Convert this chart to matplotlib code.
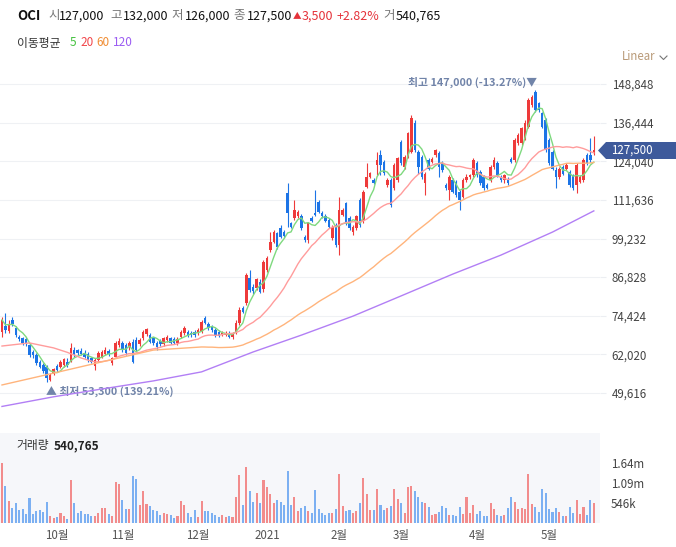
import matplotlib
matplotlib.use('Agg')
import matplotlib.pyplot as plt
import numpy as np
import pandas as pd
from matplotlib.patches import Polygon

plt.rcParams['font.family'] = ['Noto Sans CJK KR', 'DejaVu Sans']

# daily candles, prices in thousand won
opens = [69.3, 71.1, 69.6, 73.1, 70.4, 67.7, 67.2, 66.9, 65.0, 62.9, 61.8, 59.7, 58.6, 58.1, 53.8, 55.7, 58.3, 58.1, 58.6, 59.7,
         60.0, 63.4, 63.4, 63.2, 62.6, 62.2, 60.7, 58.3, 60.2, 61.3, 62.2, 63.2, 59.2, 61.3, 65.0, 65.8, 65.0, 64.3, 66.1, 66.7,
         65.4, 67.2, 68.5, 68.3, 67.2, 65.8, 66.4, 65.4, 66.7, 67.2, 66.9, 65.6, 67.5, 68.8, 69.3, 69.0, 69.3, 68.8, 69.6, 73.6,
         71.8, 70.9, 69.9, 69.3, 68.4, 68.4, 69.0, 67.5, 69.0, 72.0, 76.8, 78.4, 86.5, 83.8, 83.2, 85.4, 82.9, 89.1, 95.6, 98.2,
         100.9, 102.5, 101.4, 113.8, 104.1, 105.7, 106.3, 106.3, 99.8, 98.8, 105.7, 107.3, 111.1, 107.3, 106.5, 105.2, 99.3, 103.6, 97.2, 106.8,
         110.5, 105.7, 101.4, 102.5, 111.6, 104.7, 115.9, 119.1, 118.0, 122.8, 126.1, 123.9, 116.4, 118.0, 115.4, 118.0, 130.3, 122.1, 125.5, 127.1,
         136.2, 127.1, 125.5, 116.9, 124.4, 123.9, 126.0, 126.8, 123.4, 116.4, 114.8, 118.0, 117.5, 114.3, 112.7, 118.0, 119.1, 119.6, 123.4, 120.7,
         119.1, 116.4, 118.0, 122.3, 123.6, 119.1, 118.0, 118.5, 124.9, 124.4, 129.8, 129.8, 131.4, 135.1, 142.1, 146.4, 142.6, 139.4, 137.3, 130.8,
         127.1, 121.2, 119.1, 122.3, 121.7, 120.7, 119.6, 116.4, 117.5, 118.0, 126.0, 126.0, 127.0]
highs = [74.1, 75.2, 72.9, 74.1, 71.0, 68.3, 67.7, 67.5, 65.6, 63.4, 62.4, 60.2, 59.2, 58.6, 56.0, 57.5, 58.8, 60.2, 61.0, 60.7,
         65.6, 64.5, 63.9, 64.0, 63.4, 62.9, 61.3, 61.0, 63.0, 63.4, 64.5, 63.9, 61.3, 66.4, 67.2, 66.4, 65.6, 66.4, 66.9, 67.5,
         67.2, 69.9, 70.6, 68.8, 67.7, 66.4, 66.9, 67.7, 68.3, 67.7, 67.5, 67.5, 69.9, 71.0, 69.9, 69.6, 69.9, 70.4, 73.1, 74.4,
         72.5, 71.5, 70.4, 69.9, 69.6, 69.6, 69.6, 69.3, 72.9, 77.1, 77.4, 88.0, 89.1, 84.6, 86.7, 86.1, 92.3, 93.5, 101.4, 102.0,
         101.4, 103.6, 102.0, 117.0, 104.6, 111.6, 108.4, 107.0, 100.3, 104.6, 106.3, 114.8, 111.6, 108.0, 107.0, 105.7, 103.6, 104.1, 112.7, 109.0,
         111.1, 106.3, 103.6, 106.8, 112.2, 114.8, 123.4, 120.7, 118.6, 127.1, 127.7, 124.5, 118.6, 118.6, 123.4, 125.5, 131.0, 126.1, 133.5, 138.9,
         137.2, 127.6, 126.1, 120.7, 125.0, 125.5, 128.1, 127.4, 124.0, 117.0, 119.6, 118.6, 118.0, 114.8, 118.6, 120.1, 120.1, 125.0, 124.0, 121.2,
         119.6, 117.0, 122.8, 125.5, 124.0, 119.6, 120.1, 119.1, 125.5, 131.4, 133.0, 135.1, 137.3, 144.2, 145.3, 147.0, 143.2, 140.0, 137.8, 131.4,
         127.6, 122.3, 122.3, 122.8, 123.4, 121.2, 120.1, 123.4, 119.6, 125.0, 126.6, 131.4, 132.0]
lows = [67.7, 68.8, 69.0, 71.0, 67.7, 66.4, 65.0, 64.7, 61.3, 61.0, 58.6, 57.5, 56.0, 53.3, 53.5, 55.4, 56.5, 57.5, 58.1, 58.1,
        59.7, 61.3, 61.8, 61.8, 60.7, 59.7, 59.2, 57.0, 59.7, 60.7, 61.8, 61.5, 58.6, 60.7, 64.5, 62.9, 61.8, 63.4, 59.2, 62.9,
        64.8, 66.7, 68.0, 65.6, 65.0, 63.4, 64.8, 64.8, 66.1, 65.4, 65.4, 65.0, 67.2, 68.3, 67.7, 67.7, 67.7, 68.3, 69.0, 71.8,
        70.0, 69.3, 67.5, 67.5, 67.9, 68.0, 67.2, 66.9, 68.5, 71.5, 75.2, 77.8, 82.2, 81.4, 82.7, 81.6, 82.2, 88.5, 95.0, 97.7,
        96.0, 99.3, 99.3, 103.0, 102.5, 105.2, 105.7, 101.9, 98.2, 97.7, 104.6, 106.5, 107.3, 105.7, 104.6, 102.5, 98.8, 96.6, 94.0, 106.3,
        103.6, 101.9, 100.3, 101.9, 103.0, 104.1, 115.4, 118.6, 116.6, 119.6, 119.6, 119.6, 115.9, 109.5, 114.8, 117.5, 122.8, 121.5, 125.0, 126.6,
        127.1, 120.1, 118.5, 113.2, 121.2, 123.4, 125.5, 119.1, 120.7, 114.8, 111.6, 113.7, 112.7, 108.4, 112.2, 117.5, 118.5, 119.1, 119.1, 116.4,
        114.8, 115.0, 117.5, 121.7, 119.1, 117.5, 117.0, 116.4, 123.4, 123.9, 129.2, 129.2, 130.8, 134.6, 141.5, 140.0, 139.9, 134.6, 127.1, 122.8,
        121.2, 115.3, 118.5, 119.6, 121.2, 115.9, 114.8, 113.7, 116.9, 117.5, 122.8, 123.9, 126.0]
closes = [73.1, 69.9, 71.8, 71.8, 68.3, 66.9, 65.8, 65.4, 61.8, 61.8, 59.2, 58.1, 56.8, 54.3, 55.4, 57.2, 57.0, 59.7, 60.4, 58.6,
          64.0, 61.8, 62.4, 62.2, 61.3, 60.2, 59.7, 60.2, 62.4, 62.9, 63.4, 62.0, 60.7, 65.6, 66.4, 63.4, 62.4, 65.6, 59.7, 63.4,
          66.7, 69.3, 70.1, 66.1, 65.8, 64.3, 65.4, 67.2, 67.7, 65.8, 65.8, 66.9, 69.3, 70.4, 68.3, 68.1, 68.3, 69.9, 72.5, 72.2,
          70.4, 69.9, 67.9, 67.9, 69.0, 69.0, 67.7, 68.8, 72.0, 76.3, 75.7, 87.5, 82.7, 82.5, 86.1, 82.2, 91.8, 92.9, 98.2, 101.4,
          96.6, 99.8, 100.0, 107.3, 103.0, 108.4, 107.9, 102.5, 98.8, 104.1, 105.0, 106.7, 107.9, 106.3, 105.0, 103.0, 103.0, 97.2, 108.4, 108.4,
          104.1, 102.5, 103.0, 106.3, 103.6, 114.3, 119.1, 120.2, 117.2, 124.5, 122.8, 120.2, 118.0, 110.0, 122.8, 125.0, 123.4, 125.5, 133.0, 137.8,
          127.6, 122.3, 119.1, 120.1, 121.7, 124.9, 127.6, 122.3, 121.2, 115.3, 119.1, 114.3, 113.2, 111.6, 118.0, 119.1, 119.6, 124.4, 119.6, 116.9,
          115.3, 115.6, 122.3, 124.4, 119.6, 118.0, 119.6, 116.9, 123.9, 130.8, 132.4, 134.6, 136.2, 143.7, 144.8, 140.5, 140.5, 135.1, 127.6, 123.4,
          121.7, 119.1, 121.7, 120.1, 122.8, 116.4, 115.3, 122.8, 119.1, 124.4, 123.4, 124.4, 127.5]
# volume, thousand shares
volumes = [1640, 1000, 610, 410, 546, 364, 380, 245, 680, 245, 320, 364, 300, 573, 182, 137, 164, 273, 182, 109,
           1180, 546, 273, 337, 245, 245, 182, 200, 273, 410, 410, 245, 182, 1120, 1060, 637, 382, 382, 1290, 1210,
           491, 883, 519, 455, 364, 318, 218, 273, 245, 228, 137, 200, 610, 500, 273, 164, 364, 164, 610, 337,
           337, 273, 210, 164, 228, 164, 182, 164, 710, 1320, 500, 1530, 883, 565, 820, 546, 1180, 983, 790, 546,
           628, 565, 500, 1410, 491, 710, 337, 410, 473, 318, 273, 910, 382, 273, 210, 273, 273, 382, 1350, 473,
           337, 364, 273, 337, 546, 1230, 800, 364, 364, 930, 482, 364, 410, 473, 930, 655, 546, 273, 983, 1000,
           883, 700, 573, 546, 437, 218, 245, 300, 473, 410, 218, 218, 182, 437, 245, 710, 273, 491, 245, 318,
           182, 182, 546, 382, 218, 200, 218, 410, 710, 573, 382, 410, 382, 1340, 519, 437, 300, 930, 820, 382,
           300, 410, 300, 200, 182, 437, 273, 628, 245, 437, 218, 628, 541]

ma20_head_idx = [0, 8, 15]
ma20_head_val = [64.7, 65.7, 64.1]
ma60_head_idx = [0, 15, 29, 44, 58]
ma60_head_val = [52.2, 56.0, 59.6, 63.4, 64.4]
ma120_idx = [0, 15, 29, 44, 58, 73, 87, 102, 116, 131, 145, 160, 172]
ma120_val = [45.3, 48.4, 50.9, 53.5, 56.4, 62.8, 68.2, 74.3, 80.8, 87.8, 93.9, 101.3, 108.1]

price_ticks = [49616, 62020, 74424, 86828, 99232, 111636, 124040, 136444, 148848]
vol_ticks = [546, 1092, 1638]
vol_labels = ['546k', '1.09m', '1.64m']
months = ['10월', '11월', '12월', '2021', '2월', '3월', '4월', '5월']
month_idx = [16, 35, 57, 77, 98, 116, 138, 159]

W, H = 676, 547
fig = plt.figure(figsize=(W / 100, H / 100), dpi=100)


def fx(px):
    return px / W


def fy(py):
    return 1 - py / H


def ftext(px, py, s, **kw):
    fig.text(fx(px), fy(py), s, va='center', ha='left', **kw)


def ma_line(head_idx, head_val, n):
    # read levels up to the first full window, then the rolling mean of closes
    roll = pd.Series(closes).rolling(n).mean()
    xs = list(head_idx) + list(range(n - 1, len(closes)))
    ys = list(head_val) + list(roll[n - 1:])
    return xs, ys


up_c, dn_c = '#ee3a3a', '#1c74e6'
o, h, l, c = map(np.array, (opens, highs, lows, closes))
x = np.arange(len(c))
col = np.where(c >= o, up_c, dn_c)

ax = fig.add_axes([0, fy(425), fx(600), (425 - 65) / H])
ax.set_xlim(-0.58, 173.8)
ax.set_ylim(39.34, 154.95)

ax.vlines(x, l, h, colors=col, lw=0.8, zorder=3)
ax.bar(x, np.maximum(np.abs(c - o), 0.3), bottom=np.minimum(o, c), width=0.72,
       color=col, linewidth=0, zorder=3)

ma5 = pd.Series(c).rolling(5, min_periods=1).mean()
ax.plot(x, ma5, color='#7fd97f', lw=1.0, zorder=4)
ax.plot(*ma_line(ma20_head_idx, ma20_head_val, 20), color='#ff9c9c', lw=1.0, zorder=4)
ax.plot(*ma_line(ma60_head_idx, ma60_head_val, 60), color='#ffb47c', lw=1.0, zorder=4)
ax.plot(ma120_idx, ma120_val, color='#b27ff5', lw=1.0, zorder=4)

ax.yaxis.tick_right()
ax.set_yticks([v / 1000 for v in price_ticks])
ax.set_yticklabels([f'{v:,}' for v in price_ticks], fontsize=8.3, color='#444')
ax.tick_params(axis='y', length=4, color='#eceef2', pad=4.5)
ax.tick_params(axis='x', bottom=False, labelbottom=False)
ax.grid(axis='y', color='#eff1f4', lw=0.8)
ax.set_axisbelow(True)
for s in ax.spines.values():
    s.set_visible(False)

# high / low marks
ihi = int(np.argmax(h))
ilo = int(np.argmin(l))
ax.text(ihi + 0.6, 149.5, f'최고 {h[ihi] * 1000:,.0f} (-13.27%)▼', ha='right', va='center',
        fontsize=7.8, color='#7184a9', fontweight='bold')
ax.text(ilo - 0.3, 50.3, f'▲ 최저 {l[ilo] * 1000:,.0f} (139.21%)', ha='left', va='center',
        fontsize=7.8, color='#7184a9', fontweight='bold')

# volume panel
axv = fig.add_axes([0, fy(523), fx(600), (523 - 433) / H])
axv.set_facecolor('#f6f7fa')
axv.set_xlim(-0.58, 173.8)
axv.set_ylim(0, 2457)
vcol = np.where(c >= o, '#f28c8c', '#7cb0f2')
axv.bar(x, volumes, width=0.6, color=vcol, linewidth=0)
axv.yaxis.tick_right()
axv.set_yticks(vol_ticks)
axv.set_yticklabels(vol_labels, fontsize=8.3, color='#444')
axv.tick_params(axis='y', length=0, pad=8)
axv.set_xticks(month_idx)
axv.set_xticklabels(months, fontsize=8.3, color='#555')
axv.tick_params(axis='x', length=0, pad=4)
for s in axv.spines.values():
    s.set_visible(False)

# last price tag
tag = Polygon([(fx(598), fy(150.5)), (fx(606), fy(142)), (fx(676), fy(142)),
               (fx(676), fy(159)), (fx(606), fy(159))], closed=True,
              transform=fig.transFigure, facecolor='#3e5a9b', edgecolor='none', zorder=5)
fig.patches.append(tag)
fig.text(fx(611), fy(150.5), f'{c[-1] * 1000:,.0f}', color='white', fontsize=8.3,
         va='center', ha='left', zorder=6)

# Linear selector
ftext(622, 57, 'Linear', fontsize=8.3, color='#b99a78')
fig.lines.append(plt.Line2D([fx(660), fx(663.5), fx(667)], [fy(56), fy(59.5), fy(56)],
                            transform=fig.transFigure, color='#777', lw=0.8))

# header
ftext(17, 16, 'OCI', fontsize=9.5, fontweight='bold', color='#111')
head = [(48, '시', False), (59, '127,000', True), (110, '고', False), (123, '132,000', True),
        (171, '저', False), (185, '126,000', True), (233, '종', False), (247, '127,500', True),
        (383, '거', False), (396, '540,765', True)]
for px, s, is_value in head:
    if is_value:
        ftext(px, 16, s, fontsize=9, color='#111')
    else:
        ftext(px, 16, s, fontsize=9, color='#777')
ftext(293, 16, '▲', fontsize=6.2, color='#e5323a')
ftext(302, 16, '3,500', fontsize=9, color='#e5323a')
ftext(337, 16, '+2.82%', fontsize=9, color='#e5323a')

ftext(17, 43, '이동평균', fontsize=8.5, color='#333')
ftext(70, 43, '5', fontsize=8.5, color='#45c23f')
ftext(80, 43, '20', fontsize=8.5, color='#f2454a')
ftext(96, 43, '60', fontsize=8.5, color='#f08c32')
ftext(113, 43, '120', fontsize=8.5, color='#9b5cf2')

ftext(16, 446, '거래량', fontsize=8.5, color='#333')
ftext(54, 446, '540,765', fontsize=8.5, fontweight='bold', color='#222')

fig.savefig('out.png', dpi=100)
